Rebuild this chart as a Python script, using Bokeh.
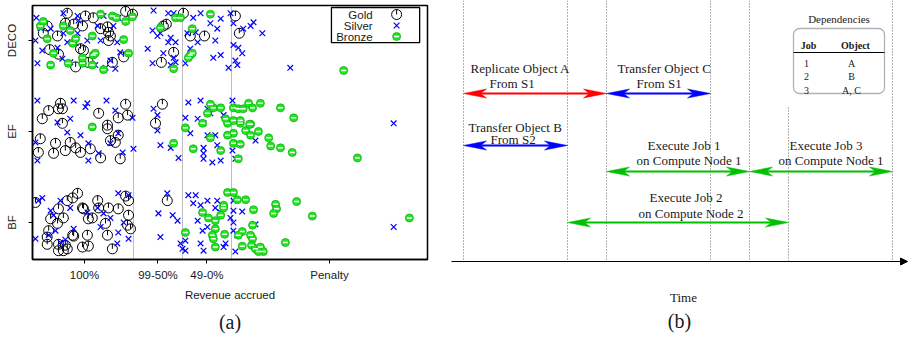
from bokeh.plotting import figure
from bokeh.models import Range1d, FixedTicker, Span, Title, Arrow, NormalHead, BoxAnnotation
from bokeh.layouts import row
from bokeh.embed import file_html
from bokeh.resources import INLINE
from bokeh.core.properties import value

SANS = "Liberation Sans"
SERIF = "Liberation Serif"
INK = "#1a1a1a"

# ---------------------------------------------------------------------------
# (a) revenue accrued per request, jittered vertically inside each workload row
# ---------------------------------------------------------------------------
categories = ["BF", "EF", "DECO"]
band_labels = ["100%", "99-50%", "49-0%", "Penalty"]
band_edges = [0, 2, 3, 4, 8]

# (revenue position, jitter) pairs per class and workload
gold_deco = [(0.65, 0.30), (1.02, 0.27), (0.61, 0.19), (0.78, 0.18), (0.24, 0.16), (0.96, 0.16),
             (1.18, 0.25), (1.84, 0.32), (1.98, 0.29), (1.47, 0.15), (1.49, 0.09), (1.53, 0.05),
             (0.16, 0.08), (0.45, 0.05), (1.33, 0.13), (1.49, 0.00), (0.92, -0.09), (0.98, -0.11),
             (0.29, -0.10), (0.47, -0.15), (0.82, -0.29), (1.08, -0.24), (1.80, -0.18), (1.57, -0.24),
             (2.61, 0.16), (2.67, 0.18), (2.57, -0.24), (2.82, -0.13), (3.02, 0.30), (3.16, 0.05),
             (3.45, 0.05), (4.08, 0.27), (4.16, 0.08)]
silver_deco = [(0.02, 0.25), (0.10, 0.14), (0.00, 0.00), (0.04, -0.25), (0.31, 0.13), (0.57, 0.30),
               (0.86, 0.27), (0.88, 0.22), (1.27, 0.16), (1.39, 0.27), (1.59, 0.16), (1.69, 0.25),
               (1.67, -0.02), (1.33, 0.00), (1.06, 0.00), (0.65, -0.02), (0.86, 0.08), (0.14, -0.11),
               (0.55, -0.20), (0.71, -0.24), (0.96, -0.19), (1.22, -0.27), (1.43, -0.30), (1.63, -0.31),
               (1.53, -0.22), (0.82, -0.03), (0.45, -0.08), (0.57, 0.08), (1.73, -0.13), (2.41, 0.33),
               (2.71, 0.30), (2.82, 0.30), (2.39, 0.11), (2.49, 0.05), (2.55, 0.08), (2.76, 0.03),
               (2.71, -0.02), (2.86, -0.02), (2.29, -0.09), (2.61, -0.14), (2.82, -0.19), (2.39, -0.25),
               (2.76, -0.27), (2.86, -0.24), (3.06, -0.25), (3.16, -0.09), (3.37, 0.30), (3.22, 0.25),
               (3.57, 0.19), (3.63, -0.19), (3.27, 0.09), (3.31, -0.02), (3.10, 0.08), (3.78, 0.24),
               (3.98, 0.30), (4.04, 0.19), (3.71, 0.13), (4.24, 0.13), (4.39, 0.16), (4.45, 0.20),
               (4.63, 0.08), (3.67, 0.00), (4.04, -0.05), (4.14, -0.08), (3.78, -0.16), (4.22, -0.14),
               (4.08, -0.22), (3.94, -0.30), (4.12, -0.27), (5.20, -0.30)]
bronze_deco = [(0.10, 0.16), (0.16, 0.21), (0.24, 0.02), (0.57, 0.16), (0.71, 0.11), (0.76, -0.03),
               (0.82, 0.02), (1.16, 0.05), (1.33, 0.29), (1.57, 0.27), (1.65, 0.25), (1.84, 0.21),
               (1.98, 0.26), (1.80, 0.01), (0.37, -0.14), (0.31, -0.27), (0.67, -0.25), (0.96, -0.25),
               (0.96, -0.19), (1.18, -0.16), (1.22, -0.14), (1.16, -0.27), (1.39, -0.32), (1.90, -0.14),
               (2.55, 0.14), (2.86, 0.25), (2.96, 0.25), (3.20, 0.13), (3.16, -0.16), (3.20, -0.14),
               (3.12, -0.19), (2.82, -0.31), (3.57, 0.29), (6.29, -0.33)]

gold_ef = [(0.51, 0.31), (0.55, 0.25), (0.47, 0.25), (0.27, 0.23), (0.14, 0.14), (1.29, 0.20),
           (1.84, 0.30), (1.69, 0.15), (1.88, 0.18), (1.47, 0.07), (2.59, 0.30), (2.45, 0.09),
           (0.10, -0.08), (0.06, -0.23), (0.41, -0.13), (0.37, -0.24), (0.61, -0.21), (0.71, -0.12),
           (0.82, -0.18), (0.92, -0.23), (1.12, -0.19), (1.33, -0.29), (1.69, -0.04), (1.63, -0.12),
           (1.73, -0.30), (1.47, 0.03), (1.53, -0.10), (0.55, 0.09)]
silver_ef = [(0.04, 0.34), (0.78, 0.34), (1.06, 0.31), (1.02, 0.27), (1.45, 0.34), (1.63, 0.23),
             (1.98, 0.15), (0.71, 0.14), (0.45, 0.10), (2.41, 0.25), (2.49, 0.18), (3.12, 0.32),
             (3.37, 0.34), (3.31, 0.14), (3.06, 0.15), (3.57, 0.20), (0.00, -0.12), (0.04, -0.32),
             (0.65, -0.01), (0.92, -0.04), (1.08, -0.13), (1.08, -0.32), (1.29, -0.24), (1.53, -0.13),
             (1.78, -0.23), (2.00, -0.19), (2.49, 0.01), (2.55, -0.15), (2.76, -0.18), (2.92, -0.29),
             (3.16, -0.02), (3.43, -0.18), (3.43, -0.30), (3.61, -0.34), (3.71, -0.15), (1.69, -0.02),
             (3.43, 0.09), (3.51, -0.04), (3.67, -0.04), (3.43, -0.24), (3.78, -0.32), (4.02, -0.21),
             (4.49, -0.10), (4.08, -0.30), (7.31, 0.09), (4.02, 0.34), (3.51, 0.25), (3.84, 0.18)]
bronze_ef = [(3.41, 0.09), (3.63, 0.26), (3.57, 0.30), (1.16, 0.05), (3.06, 0.04), (2.82, -0.13),
             (3.22, -0.19), (3.57, -0.07), (3.78, -0.21), (3.92, 0.09), (4.04, -0.02), (3.92, -0.04),
             (4.29, 0.01), (4.39, -0.04), (4.55, 0.00), (4.76, -0.07), (4.80, -0.16), (5.00, -0.18),
             (5.24, -0.23), (4.04, -0.13), (4.18, -0.14), (4.14, -0.30), (6.57, -0.29), (4.39, 0.08),
             (4.18, 0.09), (3.51, 0.20), (3.78, 0.26), (4.04, 0.26), (4.14, 0.25), (4.24, 0.25),
             (4.35, 0.31), (4.43, 0.26), (4.59, 0.31), (5.00, 0.26), (5.27, 0.15), (3.88, 0.14),
             (4.04, 0.12), (4.18, 0.12), (4.37, 0.08)]

gold_bf = [(0.00, 0.22), (0.27, -0.09), (0.24, -0.16), (0.24, -0.24), (0.47, -0.24), (0.47, -0.31),
           (0.61, -0.25), (0.57, -0.31), (0.65, -0.29), (0.76, -0.14), (0.78, -0.15), (0.47, 0.15),
           (0.31, 0.04), (0.45, -0.01), (0.57, 0.05), (0.65, 0.24), (0.76, 0.27), (0.86, 0.32),
           (0.96, 0.16), (0.98, 0.15), (1.08, 0.04), (1.16, 0.05), (1.27, 0.24), (1.29, 0.16),
           (1.49, 0.16), (1.69, 0.15), (1.84, 0.29), (1.90, 0.24), (1.88, -0.03), (1.94, -0.07),
           (1.90, 0.08), (1.43, -0.01), (1.47, -0.14), (1.06, -0.14), (0.96, -0.27), (1.08, -0.26),
           (1.57, -0.29), (2.69, 0.24)]
silver_bf = [(0.06, 0.24), (0.14, 0.27), (0.31, 0.13), (0.37, 0.08), (0.51, 0.24), (0.71, 0.16),
             (0.41, -0.09), (0.27, -0.14), (0.00, -0.18), (0.51, -0.22), (0.61, -0.19), (0.78, -0.07),
             (1.06, 0.11), (1.27, 0.16), (1.39, 0.10), (1.53, 0.05), (1.33, -0.05), (1.69, 0.32),
             (1.90, 0.30), (1.80, 0.00), (1.69, -0.11), (1.90, -0.18), (1.67, -0.23), (2.55, -0.16),
             (2.51, 0.10), (2.80, 0.08), (2.69, 0.32), (2.90, 0.02), (2.96, -0.23), (3.06, -0.20),
             (3.00, -0.29), (3.06, -0.31), (3.12, 0.30), (3.22, 0.21), (3.37, 0.19), (3.27, 0.30),
             (3.51, 0.24), (3.67, 0.16), (3.51, -0.05), (3.37, -0.23), (3.31, 0.02), (3.71, 0.24),
             (4.04, 0.24), (3.78, 0.11), (4.04, 0.13), (4.22, 0.12), (3.98, 0.05), (4.04, 0.00),
             (4.49, -0.02), (3.41, -0.09), (4.04, -0.09), (4.12, -0.14), (3.88, -0.23), (3.84, -0.27),
             (4.08, -0.32), (7.31, -0.05), (3.43, -0.31)]
bronze_bf = [(3.06, -0.11), (3.41, 0.11), (3.53, 0.05), (3.67, 0.02), (3.67, -0.07), (3.61, -0.14),
             (3.63, -0.18), (3.67, -0.27), (3.92, 0.33), (4.04, 0.33), (4.12, 0.25), (4.29, 0.25),
             (3.84, 0.19), (3.84, 0.16), (4.90, 0.20), (4.92, 0.15), (4.86, 0.10), (5.33, 0.23),
             (4.45, 0.14), (5.65, 0.07), (3.78, 0.08), (4.43, -0.03), (4.22, -0.10), (4.14, -0.14),
             (4.39, -0.14), (4.43, -0.18), (3.86, -0.13), (4.22, -0.26), (4.41, -0.25), (4.49, -0.29),
             (4.59, -0.27), (4.65, -0.32), (4.55, -0.32), (5.10, -0.22), (7.63, 0.05)]

gold = {"BF": gold_bf, "EF": gold_ef, "DECO": gold_deco}
silver = {"BF": silver_bf, "EF": silver_ef, "DECO": silver_deco}
bronze = {"BF": bronze_bf, "EF": bronze_ef, "DECO": bronze_deco}


def flatten(groups):
    xs, ys = [], []
    for cat in categories:
        for x, dy in groups[cat]:
            xs.append(x)
            ys.append(categories.index(cat) + dy)
    return xs, ys


pa = figure(width=440, height=337, x_range=Range1d(-0.06, 8.0), y_range=Range1d(-0.407, 2.385),
            output_backend="svg", toolbar_location=None,
            min_border_left=32, min_border_right=13, min_border_top=5, min_border_bottom=78)
pa.frame_align = False
pa.grid.visible = False
pa.outline_line_color = "black"
pa.outline_line_width = 1.5

band_centers = [(a + b) / 2 for a, b in zip(band_edges[:-1], band_edges[1:])]
pa.xaxis.ticker = FixedTicker(ticks=band_centers)
pa.xaxis.major_label_overrides = {c: lab for c, lab in zip(band_centers, band_labels)}
pa.yaxis.ticker = FixedTicker(ticks=list(range(len(categories))))
pa.yaxis.major_label_overrides = {i: c for i, c in enumerate(categories)}
pa.yaxis.major_label_orientation = "vertical"
pa.yaxis.major_label_standoff = 10
pa.xaxis.axis_label = "Revenue accrued"
for ax in (pa.xaxis[0], pa.yaxis[0]):
    ax.axis_line_color = "black"
    ax.axis_line_width = 1.5
    ax.major_tick_in = 0
    ax.major_tick_out = 4
    ax.minor_tick_line_color = None
    ax.major_label_text_font = SANS
    ax.major_label_text_font_size = "11.5px"
    ax.major_label_text_color = INK
    ax.axis_label_text_font = SANS
    ax.axis_label_text_font_size = "11.5px"
    ax.axis_label_text_font_style = "normal"
    ax.axis_label_text_color = INK
    ax.axis_label_standoff = 5

for edge in band_edges[1:-1]:
    pa.add_layout(Span(location=edge, dimension="height",
                       line_color="#777777", line_width=1, line_dash="1 1", level="underlay"))

GOLD_SIZE, SILVER_SIZE, BRONZE_SIZE = 10, 8, 8
TICK_LEN = 0.055  # circle radius in y units (about 5px)

gx, gy = flatten(gold)
pa.scatter(gx, gy, marker="circle", size=GOLD_SIZE, fill_color=None, line_color="black", line_width=1)
pa.segment(x0=gx, y0=gy, x1=gx, y1=[y + TICK_LEN for y in gy], line_color="black", line_width=1)

sx, sy = flatten(silver)
pa.scatter(sx, sy, marker="x", size=SILVER_SIZE, line_color="#0000ff", line_width=1.2)

bx, by = flatten(bronze)
pa.scatter(bx, by, marker="circle", size=BRONZE_SIZE, fill_color="#22e622", line_color="#13b013", line_width=0.8)
pa.scatter(bx, by, marker="dash", size=5, line_color="white", line_width=1.5)

# legend box in the upper-right corner: label on the left, marker on the right
LEG_LEFT, LEG_RIGHT, LEG_TOP, LEG_BOTTOM = 6.04, 7.84, 2.363, 1.978
LEG_TEXT_X, LEG_MARK_X = 6.88, 7.37
leg_rows = [2.286, 2.165, 2.044]
pa.quad(left=[LEG_LEFT], right=[LEG_RIGHT], top=[LEG_TOP], bottom=[LEG_BOTTOM],
        fill_color="white", line_color="black", line_width=1.3)
pa.text(x=[LEG_TEXT_X] * 3, y=leg_rows, text=["Gold", "Silver", "Bronze"],
        text_font=value(SANS), text_font_size="11.5px", text_align="right",
        text_baseline="middle", text_color=INK)
pa.scatter([LEG_MARK_X], [leg_rows[0]], marker="circle", size=GOLD_SIZE, fill_color=None,
           line_color="black", line_width=1)
pa.segment(x0=[LEG_MARK_X], y0=[leg_rows[0]], x1=[LEG_MARK_X], y1=[leg_rows[0] + TICK_LEN],
           line_color="black", line_width=1)
pa.scatter([LEG_MARK_X], [leg_rows[1]], marker="x", size=SILVER_SIZE, line_color="#0000ff", line_width=1.2)
pa.scatter([LEG_MARK_X], [leg_rows[2]], marker="circle", size=BRONZE_SIZE, fill_color="#22e622",
           line_color="#13b013", line_width=0.8)
pa.scatter([LEG_MARK_X], [leg_rows[2]], marker="dash", size=5, line_color="white", line_width=1.5)

pa.add_layout(Title(text="(a)", align="center", text_font=SERIF, text_font_size="20px",
                    text_font_style="normal", text_color=INK), "below")

# ---------------------------------------------------------------------------
# (b) schedule of transfers and job executions along a time axis
# ---------------------------------------------------------------------------
event_times = [0, 8, 11, 19, 22, 25, 33]
task_titles = ["Replicate Object A", "Transfer Object C", "Transfer Object B",
               "Execute Job 1", "Execute Job 3", "Execute Job 2"]
task_subtitles = ["From S1", "From S1", "From S2",
                  "on Compute Node 1", "on Compute Node 1", "on Compute Node 2"]
task_start = [0, 11, 0, 11, 22, 8]
task_end = [11, 19, 8, 22, 33, 25]
task_kind = ["replicate", "transfer", "transfer", "execute", "execute", "execute"]
dep_jobs = ["1", "2", "3"]
dep_objects = ["A", "B", "A, C"]

kind_color = {"replicate": "#ff0000", "transfer": "#0000ff", "execute": "#00c000"}

# layout (pixels down from the top; x in time units, 13px per unit)
PX = 13.0
lane_y = [93, 93, 145, 171, 171, 222]
title_dx = [7, 11, 5, 41, 40, 82]
sub_dx = [26, 30, 27, 30, 29, 71]
title_dy = [-25, -25, -18, -26, -26, -25]
sub_dy = [-10, -10, -6, -11, -11, -9]
guide_top = [0, 0, 0, 0, 0, 107, 0]
AXIS_Y = 261

pb = figure(width=468, height=337, x_range=Range1d(-23 / PX, 445 / PX), y_range=Range1d(337, 0),
            output_backend="svg", toolbar_location=None, x_axis_type=None, y_axis_type=None,
            min_border=0)
pb.frame_align = False
pb.outline_line_color = None

pb.segment(x0=event_times, y0=guide_top, x1=event_times, y1=[AXIS_Y] * len(event_times),
           line_color="#666666", line_width=1, line_dash="1 2")

pb.add_layout(Arrow(end=NormalHead(size=7, fill_color="black", line_color="black"),
                    x_start=-12 / PX, y_start=AXIS_Y, x_end=444 / PX, y_end=AXIS_Y,
                    line_color="black", line_width=1.2))

HEAD_L, HEAD_N, HEAD_W = 23 / PX, 17 / PX, 4.5
heads_x, heads_y, heads_c = [], [], []
shaft_x0, shaft_x1, shaft_c = [], [], []
for t0, t1, y, kind in zip(task_start, task_end, lane_y, task_kind):
    c = kind_color[kind]
    heads_x.append([t0, t0 + HEAD_L, t0 + HEAD_N, t0 + HEAD_L])
    heads_y.append([y, y - HEAD_W, y, y + HEAD_W])
    heads_x.append([t1, t1 - HEAD_L, t1 - HEAD_N, t1 - HEAD_L])
    heads_y.append([y, y - HEAD_W, y, y + HEAD_W])
    heads_c += [c, c]
    shaft_x0.append(t0 + HEAD_N)
    shaft_x1.append(t1 - HEAD_N)
    shaft_c.append(c)
pb.segment(x0=shaft_x0, y0=lane_y, x1=shaft_x1, y1=lane_y, line_color=shaft_c, line_width=2)
pb.patches(heads_x, heads_y, fill_color=heads_c, line_color=heads_c, line_width=0.5)

pb.text(x=[t + dx / PX for t, dx in zip(task_start, title_dx)],
        y=[y + dy for y, dy in zip(lane_y, title_dy)], text=task_titles,
        text_font=value(SERIF), text_font_size="13px", text_align="left",
        text_baseline="alphabetic", text_color=INK)
pb.text(x=[t + dx / PX for t, dx in zip(task_start, sub_dx)],
        y=[y + dy for y, dy in zip(lane_y, sub_dy)], text=task_subtitles,
        text_font=value(SERIF), text_font_size="13px", text_align="left",
        text_baseline="alphabetic", text_color=INK)

pb.text(x=[220 / PX], y=[297], text=["Time"], text_font=value(SERIF), text_font_size="13px",
        text_align="center", text_baseline="alphabetic", text_color=INK)
pb.text(x=[216 / PX], y=[320], text=["(b)"], text_font=value(SERIF), text_font_size="20px",
        text_align="center", text_baseline="middle", text_color=INK)

# dependency table
TBL_L, TBL_R = 330 / PX, 421 / PX
JOB_X, OBJ_X = 345 / PX, 388 / PX
row_y = [63, 76, 90]
pb.text(x=[(TBL_L + TBL_R) / 2], y=[18], text=["Dependencies"], text_font=value(SERIF),
        text_font_size="11px", text_align="center", text_baseline="alphabetic", text_color=INK)
pb.add_layout(BoxAnnotation(left=TBL_L, right=TBL_R, top=28, bottom=93, fill_alpha=0,
                            line_color="black", line_width=1.3, border_radius=6))
pb.segment(x0=[TBL_L], y0=[52], x1=[TBL_R], y1=[52], line_color="black", line_width=1.2)
pb.text(x=[JOB_X, OBJ_X + 4 / PX], y=[45, 45], text=["Job", "Object"], text_font=value(SERIF),
        text_font_size="10px", text_font_style="bold", text_align="center",
        text_baseline="alphabetic", text_color=INK)
pb.text(x=[JOB_X - 2 / PX] * len(dep_jobs), y=row_y, text=dep_jobs, text_font=value(SERIF),
        text_font_size="10px", text_align="center", text_baseline="alphabetic", text_color=INK)
pb.text(x=[OBJ_X] * len(dep_objects), y=row_y, text=dep_objects, text_font=value(SERIF),
        text_font_size="10px", text_align="center", text_baseline="alphabetic", text_color=INK)

layout = row(pa, pb)
open("out.html", "w").write(file_html(layout, INLINE))
